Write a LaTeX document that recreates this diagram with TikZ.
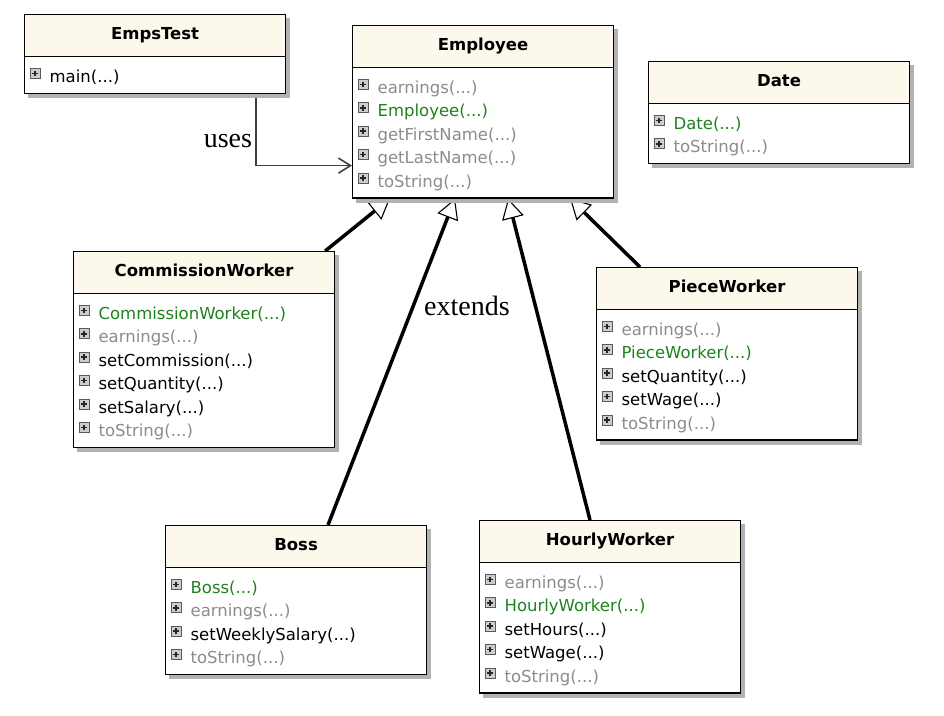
\documentclass[tikz,border=0pt]{standalone}
\usepackage{fontspec}
\newfontfamily\umlfont{DejaVu Sans}
\newfontfamily\lblfont{Liberation Serif}
\usetikzlibrary{shapes.multipart, arrows.meta, positioning}
\pgfdeclarelayer{bg}
\pgfsetlayers{bg,main}

\definecolor{hdfill}{RGB}{252,248,236}
\definecolor{mgreen}{RGB}{30,130,30}
\definecolor{mgrey}{RGB}{140,140,140}
\definecolor{icofill}{RGB}{205,205,205}
\definecolor{icoedge}{RGB}{90,90,90}

% member icon, member line, class title
\newcommand{\mico}{\tikz[baseline=-4pt]{\draw[icoedge, fill=icofill, line width=1pt] (0pt,0pt) rectangle (10pt,10pt); \draw[black!85, line width=1.7pt] (2.2pt,5pt) -- (7.8pt,5pt) (5pt,2.2pt) -- (5pt,7.8pt);}}
\newcommand{\mstrut}{\rule[-4.4pt]{0pt}{23.4pt}}
\newcommand{\mt}[2]{\mico\hspace{9pt}\textcolor{#1}{#2}\mstrut}
\newcommand{\hd}[1]{\makebox[251pt][c]{\textbf{#1}\rule[-11pt]{0pt}{29pt}}}

\begin{document}
\begin{tikzpicture}[x=1pt, y=-1pt]

\tikzset{cls/.style = {rectangle split, rectangle split parts=2, draw, line width=1.2pt,
  rectangle split part fill={hdfill,white}, text width=251pt, align=left,
  inner xsep=5pt, inner ysep=6pt, anchor=north west,
  font=\umlfont\fontsize{16.5pt}{23.4pt}\selectfont}}
\tikzset{usesedge/.style = {draw=black!75, line width=1.6pt, -{Straight Barb[length=12pt, width=15pt]}}}
\tikzset{ext/.style = {line width=3.5pt, -{Triangle[open, length=20pt, width=22pt, line width=1.1pt, fill=white]}}}
\tikzset{lbl/.style = {font=\lblfont\fontsize{28pt}{32pt}\selectfont}}

\useasboundingbox (0,0) rectangle (944,715);

% classes
\node[cls] (tst) at (24,14) {\hd{EmpsTest}\nodepart{two}\mt{black}{main(...)}};
\node[cls] (emp) at (352,25) {\hd{Employee}\nodepart{two}\mt{mgrey}{earnings(...)}\\\mt{mgreen}{Employee(...)}\\\mt{mgrey}{getFirstName(...)}\\\mt{mgrey}{getLastName(...)}\\\mt{mgrey}{toString(...)}};
\node[cls] (dat) at (648,61) {\hd{Date}\nodepart{two}\mt{mgreen}{Date(...)}\\\mt{mgrey}{toString(...)}};
\node[cls] (cw) at (73,251) {\hd{CommissionWorker}\nodepart{two}\mt{mgreen}{CommissionWorker(...)}\\\mt{mgrey}{earnings(...)}\\\mt{black}{setCommission(...)}\\\mt{black}{setQuantity(...)}\\\mt{black}{setSalary(...)}\\\mt{mgrey}{toString(...)}};
\node[cls] (pw) at (596,267) {\hd{PieceWorker}\nodepart{two}\mt{mgrey}{earnings(...)}\\\mt{mgreen}{PieceWorker(...)}\\\mt{black}{setQuantity(...)}\\\mt{black}{setWage(...)}\\\mt{mgrey}{toString(...)}};
\node[cls] (boss) at (165,525) {\hd{Boss}\nodepart{two}\mt{mgreen}{Boss(...)}\\\mt{mgrey}{earnings(...)}\\\mt{black}{setWeeklySalary(...)}\\\mt{mgrey}{toString(...)}};
\node[cls] (hw) at (479,520) {\hd{HourlyWorker}\nodepart{two}\mt{mgrey}{earnings(...)}\\\mt{mgreen}{HourlyWorker(...)}\\\mt{black}{setHours(...)}\\\mt{black}{setWage(...)}\\\mt{mgrey}{toString(...)}};

% edges
\begin{pgfonlayer}{bg}
\draw[usesedge] ([xshift=-30pt]tst.south east) |- ([yshift=33pt]emp.south west) node[lbl, pos=0.33, left] {uses};
\draw[ext] ([xshift=-10pt]cw.north east) -- ([xshift=38pt]emp.south west);
\draw[ext] ([xshift=163pt]boss.north west) -- ([xshift=103pt]emp.south west) node[lbl, pos=0.67, right=6pt] {extends};
\draw[ext] ([xshift=111pt]hw.north west) -- ([xshift=156pt]emp.south west);
\draw[ext] ([xshift=44pt]pw.north west) -- ([xshift=218pt]emp.south west);
% shadows
\foreach \c in {tst,emp,dat,cw,pw,boss,hw}
  \fill[black!30] ([shift={(4pt,-4pt)}]\c.north west) rectangle ([shift={(4pt,-4pt)}]\c.south east);
\end{pgfonlayer}
\end{tikzpicture}
\end{document}
